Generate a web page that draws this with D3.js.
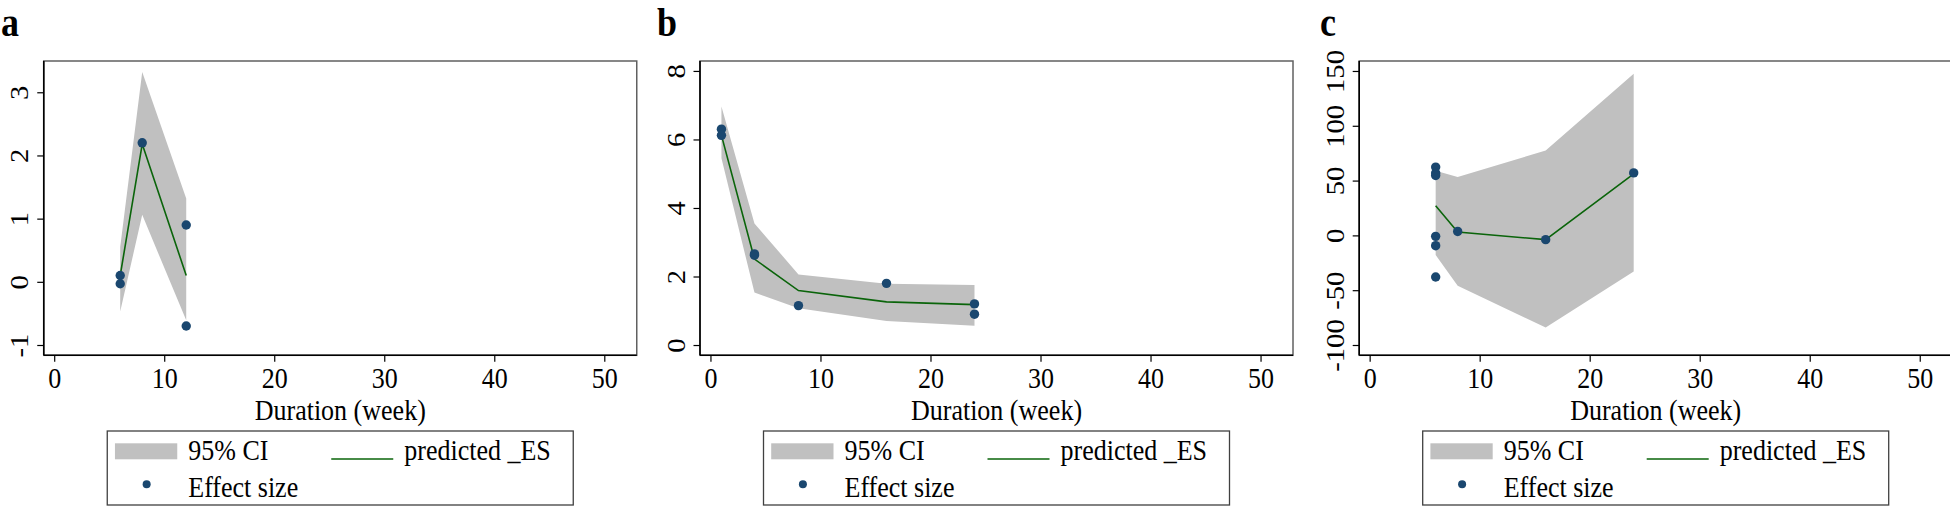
<!DOCTYPE html>
<html><head><meta charset="utf-8">
<script src="https://cdn.jsdelivr.net/npm/d3@7"></script>
<style>
html,body{margin:0;padding:0;background:#fff;}
svg text{font-family:"Liberation Serif","Times New Roman",serif;fill:#000;}
</style></head>
<body><svg id="chart" width="1950" height="508"></svg>
<script>
// ---- data ----
const xTicks = [0, 10, 20, 30, 40, 50];
const panelLabels = ["a", "b", "c"];
const xTitle = "Duration (week)";
const legendLabels = ["95% CI", "predicted _ES", "Effect size"];

const aTicks = [-1, 0, 1, 2, 3];
const aPointsX = [6, 6, 8, 12, 12];
const aPointsY = [0.1, -0.03, 2.2, 0.9, -0.7];
const aFitX = [6, 8, 12];
const aFitY = [0.1, 2.18, 0.1];
const aLower = [-0.47, 1.06, -0.61];
const aUpper = [0.55, 3.32, 1.32];

const bTicks = [0, 2, 4, 6, 8];
const bPointsX = [1, 1, 4, 4, 8, 16, 24, 24];
const bPointsY = [6.3, 6.12, 2.62, 2.66, 1.15, 1.8, 1.2, 0.9];
const bFitX = [1, 4, 8, 16, 24];
const bFitY = [6.12, 2.51, 1.59, 1.26, 1.18];
const bLower = [5.45, 1.53, 1.07, 0.7, 0.56];
const bUpper = [6.96, 3.55, 2.06, 1.79, 1.75];

const cTicks = [-100, -50, 0, 50, 100, 150];
const cPointsX = [6, 6, 6, 6, 6, 6, 8, 16, 24];
const cPointsY = [62.3, 56.9, 54.7, -0.9, -9.4, -38, 3.6, -3.9, 57];
const cFitX = [6, 8, 16, 24];
const cFitY = [27, 3.1, -3.9, 56.2];
const cLower = [-18, -46, -84, -33];
const cUpper = [59, 53.2, 77.5, 147.4];

(function () {
const panels = [
  {label: panelLabels[0], labelX: 1, left: 43.75, yDom: [-1.163, 3.495], ticks: aTicks,
   px: aPointsX, py: aPointsY, fx: aFitX, fy: aFitY, lo: aLower, hi: aUpper},
  {label: panelLabels[1], labelX: 657, left: 700, yDom: [-0.30, 8.29], ticks: bTicks,
   px: bPointsX, py: bPointsY, fx: bFitX, fy: bFitY, lo: bLower, hi: bUpper},
  {label: panelLabels[2], labelX: 1320, left: 1359.2, yDom: [-109.4, 159.1], ticks: cTicks,
   px: cPointsX, py: cPointsY, fx: cFitX, fy: cFitY, lo: cLower, hi: cUpper}
];
const plotTop = 61, plotBottom = 355.3, pw = 593;
const xDom = [-0.95, 52.95];
const gray = "#c0c0c0", green = "#0a640a", navy = "#1a476f";
const fs = 26, sy = 1.1;

const svg = d3.select("#chart");

function addText(parent, x, y, str, size, anchor, weight) {
  return parent.append("text")
    .attr("transform", `translate(${x},${y}) scale(1,${sy})`)
    .attr("text-anchor", anchor || "start")
    .style("font-size", size + "px")
    .style("font-weight", weight || "normal")
    .text(str);
}

panels.forEach(p => {
  const g = svg.append("g");
  const x = d3.scaleLinear().domain(xDom).range([p.left, p.left + pw]);
  const y = d3.scaleLinear().domain(p.yDom).range([plotBottom, plotTop]);

  addText(g, p.labelX, 36, p.label, 36, "start", "bold");

  g.append("rect").attr("x", p.left).attr("y", plotTop).attr("width", pw).attr("height", plotBottom - plotTop)
    .attr("fill", "#fff").attr("stroke", "#606060").attr("stroke-width", 1.5);

  const band = p.fx.map((v, i) => ({x: v, lo: p.lo[i], hi: p.hi[i]}));
  g.append("path").datum(band)
    .attr("d", d3.area().x(d => x(d.x)).y0(d => y(d.lo)).y1(d => y(d.hi)))
    .attr("fill", gray);

  const fit = p.fx.map((v, i) => ({x: v, y: p.fy[i]}));
  g.append("path").datum(fit)
    .attr("d", d3.line().x(d => x(d.x)).y(d => y(d.y)))
    .attr("fill", "none").attr("stroke", green).attr("stroke-width", 1.6);

  g.selectAll("circle.pt").data(p.px.map((v, i) => ({x: v, y: p.py[i]})))
    .enter().append("circle").attr("class", "pt")
    .attr("cx", d => x(d.x)).attr("cy", d => y(d.y)).attr("r", 4.7).attr("fill", navy);

  const xAxis = d3.axisBottom(x).tickValues(xTicks).tickSize(6.5).tickFormat(d => String(d));
  const xg = g.append("g").attr("transform", `translate(0,${plotBottom})`).call(xAxis);
  xg.select(".domain").remove();
  xg.append("line").attr("x1", p.left).attr("x2", p.left + pw).attr("y1", 0).attr("y2", 0)
    .attr("stroke", "#000").attr("stroke-width", 1.6);
  xg.selectAll(".tick line").attr("stroke", "#000").attr("stroke-width", 1.2);
  xg.selectAll(".tick text").style("font-size", fs + "px")
    .style("font-family", '"Liberation Serif", serif').attr("fill", "#000")
    .attr("dy", null).attr("y", null)
    .attr("transform", `translate(0,32.7) scale(1,${sy})`);

  const yAxis = d3.axisLeft(y).tickValues(p.ticks).tickSize(6.5).tickFormat(d => String(d));
  const yg = g.append("g").attr("transform", `translate(${p.left},0)`).call(yAxis);
  yg.select(".domain").remove();
  yg.append("line").attr("x1", 0).attr("x2", 0).attr("y1", plotTop).attr("y2", plotBottom)
    .attr("stroke", "#000").attr("stroke-width", 1.6);
  yg.selectAll(".tick line").attr("stroke", "#000").attr("stroke-width", 1.2);
  yg.selectAll(".tick text").style("font-size", fs + "px")
    .style("font-family", '"Liberation Serif", serif').attr("fill", "#000")
    .attr("x", null).attr("dy", null)
    .attr("text-anchor", "middle")
    .attr("transform", `translate(-15.5,0) scale(1,${sy}) rotate(-90)`);

  addText(g, p.left + pw / 2, 419.5, xTitle, fs, "middle");

  const lw = 466, lx = p.left + pw / 2 - lw / 2, ly = 431;
  const lg = g.append("g").attr("transform", `translate(${lx},${ly})`);
  lg.append("rect").attr("x", 0).attr("y", 0).attr("width", lw).attr("height", 74)
    .attr("fill", "#fff").attr("stroke", "#404040").attr("stroke-width", 1.3);
  lg.append("rect").attr("x", 7.7).attr("y", 12.3).attr("width", 62.3).attr("height", 16).attr("fill", gray);
  addText(lg, 81, 29, legendLabels[0], fs);
  lg.append("line").attr("x1", 224).attr("x2", 286).attr("y1", 28).attr("y2", 28)
    .attr("stroke", green).attr("stroke-width", 1.6);
  addText(lg, 297, 29, legendLabels[1], fs);
  lg.append("circle").attr("cx", 39.4).attr("cy", 53.3).attr("r", 4).attr("fill", navy);
  addText(lg, 81, 65.7, legendLabels[2], fs);
});
})();
</script></body></html>
